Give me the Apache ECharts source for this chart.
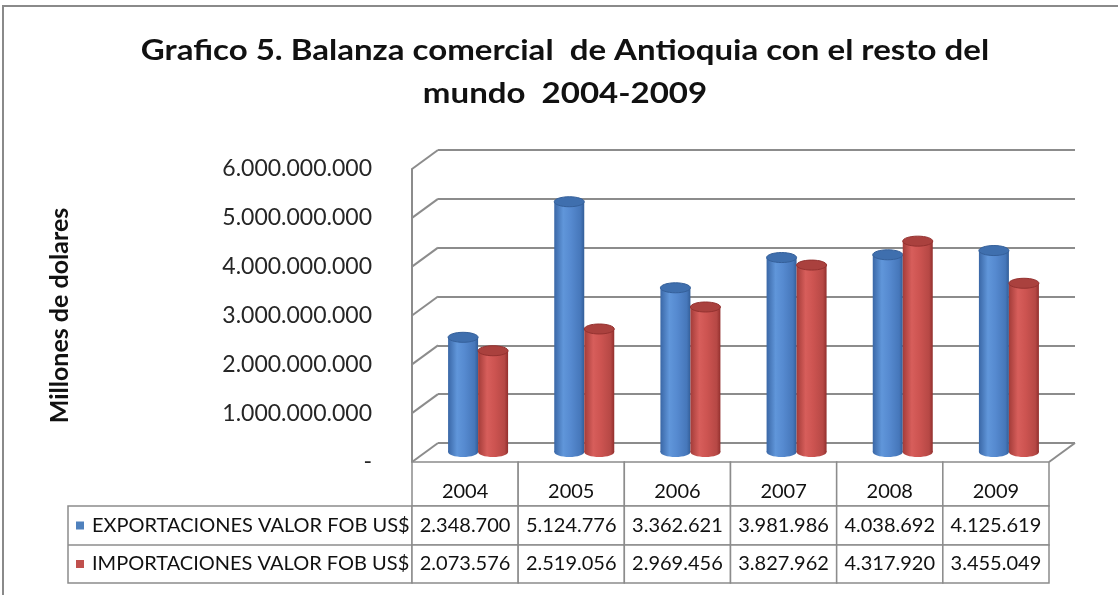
<!DOCTYPE html>
<html>
<head>
<meta charset="utf-8">
<title>Balanza comercial de Antioquia 2004-2009</title>
<script src="https://cdn.jsdelivr.net/npm/echarts@6/dist/echarts.min.js"></script>
<style>
  html, body { margin: 0; padding: 0; background: #fff; }
  #chart { width: 1118px; height: 595px; }
</style>
</head>
<body>
<div id="chart"></div>
<script>
var years = ['2004', '2005', '2006', '2007', '2008', '2009'];
// valores de la tabla (miles de US$)
var exportaciones = [2348700, 5124776, 3362621, 3981986, 4038692, 4125619];
var importaciones = [2073576, 2519056, 2969456, 3827962, 4317920, 3455049];
var seriesNames = ['EXPORTACIONES VALOR FOB US$', 'IMPORTACIONES VALOR FOB US$'];
var yTicks = [0, 1000000000, 2000000000, 3000000000, 4000000000, 5000000000, 6000000000];
var escala = 1000; // el eje esta en dolares, la tabla en miles
var titulo = 'Grafico 5. Balanza comercial  de Antioquia con el resto del\nmundo  2004-2009';

var FONT = 'Lato';
var GRIS = '#8c8c8c';

function puntos(n) {
    return String(Math.round(n)).replace(/\B(?=(\d{3})+(?!\d))/g, '.');
}

var myChart = echarts.init(document.getElementById('chart'));

// cilindro estilo excel 3D
function cilindro(dx, body, cap, rim) {
    return function (params, api) {
        var top = api.coord([api.value(0), api.value(1)]);
        var base = api.coord([api.value(0), 0]);
        var cx = top[0] + dx, r = 15, ry = 5;
        var fill = new echarts.graphic.LinearGradient(0, 0, 1, 0, body);
        return {
            type: 'group',
            children: [
                { type: 'ellipse', shape: { cx: cx, cy: base[1], rx: r, ry: ry }, style: { fill: fill } },
                { type: 'rect', shape: { x: cx - r, y: top[1], width: 2 * r, height: base[1] - top[1] }, style: { fill: fill } },
                { type: 'ellipse', shape: { cx: cx, cy: top[1], rx: r, ry: ry }, style: { fill: cap, stroke: rim, lineWidth: 1 } }
            ]
        };
    };
}

var azul = [
    { offset: 0, color: '#3a67a6' }, { offset: 0.3, color: '#6096da' },
    { offset: 0.55, color: '#568ad0' }, { offset: 0.88, color: '#4677ba' },
    { offset: 1, color: '#335e98' }
];
var rojo = [
    { offset: 0, color: '#a33c39' }, { offset: 0.3, color: '#d75e5b' },
    { offset: 0.55, color: '#cd5451' }, { offset: 0.88, color: '#b64845' },
    { offset: 1, color: '#922f2d' }
];

var option = {
    backgroundColor: '#fff',
    grid: [
        { left: 438, top: 150, width: 637, height: 293 }, // pared del fondo
        { left: 425, top: 159, width: 637, height: 293 }, // cilindros
        { left: 412, top: 169, width: 637, height: 293 }  // frente: etiquetas y tabla
    ],
    xAxis: [0, 1, 2].map(function (g) {
        return {
            type: 'category', gridIndex: g, data: years,
            axisLine: { show: false }, axisTick: { show: false }, axisLabel: { show: false }
        };
    }),
    yAxis: [
        {
            type: 'value', gridIndex: 0, min: 0, max: 6000000000, interval: 1000000000,
            axisLabel: { show: false },
            splitLine: { lineStyle: { color: GRIS, width: 2 } }
        },
        {
            type: 'value', gridIndex: 1, min: 0, max: 6000000000, interval: 1000000000,
            axisLabel: { show: false }, splitLine: { show: false }
        },
        {
            type: 'value', gridIndex: 2, min: 0, max: 6000000000, interval: 1000000000,
            axisLine: { show: true, lineStyle: { color: GRIS, width: 2 } },
            axisTick: { show: false },
            splitLine: { show: false },
            axisLabel: {
                margin: 40, fontFamily: FONT, fontSize: 23, color: '#262626',
                formatter: function (v) { return v === 0 ? '-' : puntos(v); }
            },
            name: 'Millones de dolares',
            nameLocation: 'middle',
            nameRotate: 90,
            nameGap: 340,
            nameTextStyle: { fontFamily: FONT, fontSize: 25, fontWeight: 'bold', color: '#111' }
        }
    ],
    graphic: [
        {
            type: 'rect', shape: { x: 3, y: 6, width: 1200, height: 620 },
            style: { fill: 'none', stroke: '#8a8a8a', lineWidth: 2 }, silent: true
        },
        {
            type: 'text', x: 565, y: 72, scaleX: 1.18,
            style: {
                text: titulo, fontFamily: FONT, fontSize: 28, fontWeight: 'bold', fill: '#111',
                lineHeight: 43, align: 'center', verticalAlign: 'middle'
            }
        },
        {
            type: 'rect', shape: { x: 68, y: 506, width: 344, height: 77 },
            style: { fill: '#fff', stroke: GRIS, lineWidth: 1.5 }
        },
        {
            type: 'line', shape: { x1: 68, y1: 545, x2: 412, y2: 545 },
            style: { stroke: GRIS, lineWidth: 1.5 }
        }
    ].concat(seriesNames.map(function (n, k) {
        var yc = k === 0 ? 525.5 : 564;
        return {
            type: 'group',
            children: [
                { type: 'rect', shape: { x: 76, y: yc - 4, width: 8, height: 8 }, style: { fill: k === 0 ? '#4f81bd' : '#c0504d' } },
                { type: 'text', x: 92, y: yc, style: { text: n, fontFamily: FONT, fontSize: 20, fill: '#111', verticalAlign: 'middle' } }
            ]
        };
    })),
    series: [
        {
            type: 'custom', name: 'pared', xAxisIndex: 0, yAxisIndex: 0, silent: true, z: 1,
            data: yTicks.map(function (v) { return [0, v]; }),
            renderItem: function (params, api) {
                var cs = params.coordSys;
                var y = api.coord([0, api.value(1)])[1];
                var st = { stroke: GRIS, lineWidth: 2 };
                var children = [{ type: 'line', shape: { x1: cs.x, y1: y, x2: cs.x - 26, y2: y + 19 }, style: st }];
                if (api.value(1) === 0) {
                    children.push({ type: 'line', shape: { x1: cs.x + cs.width, y1: y, x2: cs.x + cs.width - 26, y2: y + 19 }, style: st });
                }
                return { type: 'group', children: children };
            }
        },
        {
            type: 'custom', name: seriesNames[0], xAxisIndex: 1, yAxisIndex: 1, z: 3,
            data: exportaciones.map(function (v, i) { return [i, v * escala]; }),
            renderItem: cilindro(-15, azul, '#3f6fae', '#35609a')
        },
        {
            type: 'custom', name: seriesNames[1], xAxisIndex: 1, yAxisIndex: 1, z: 3,
            data: importaciones.map(function (v, i) { return [i, v * escala]; }),
            renderItem: cilindro(15, rojo, '#aa413e', '#943230')
        },
        {
            type: 'custom', name: 'tabla', xAxisIndex: 2, yAxisIndex: 2, silent: true, z: 4,
            data: years.map(function (y, i) { return [i, 0]; }),
            renderItem: function (params, api) {
                var i = api.value(0);
                var c = api.coord([i, 0]);
                var w = api.size([1, 0])[0];
                var x0 = c[0] - w / 2, y = c[1];
                var rows = [
                    [years[i], 44, 30],
                    [puntos(exportaciones[i]), 39, 19.5],
                    [puntos(importaciones[i]), 38, 19]
                ];
                var children = [];
                rows.forEach(function (r) {
                    children.push({ type: 'rect', shape: { x: x0, y: y, width: w, height: r[1] }, style: { fill: '#fff', stroke: GRIS, lineWidth: 1.5 } });
                    children.push({ type: 'text', x: c[0], y: y + r[2], style: { text: r[0], fontFamily: FONT, fontSize: 20, fill: '#111', align: 'center', verticalAlign: 'middle' } });
                    y += r[1];
                });
                return { type: 'group', children: children };
            }
        }
    ]
};

myChart.setOption(option);
</script>
</body>
</html>
